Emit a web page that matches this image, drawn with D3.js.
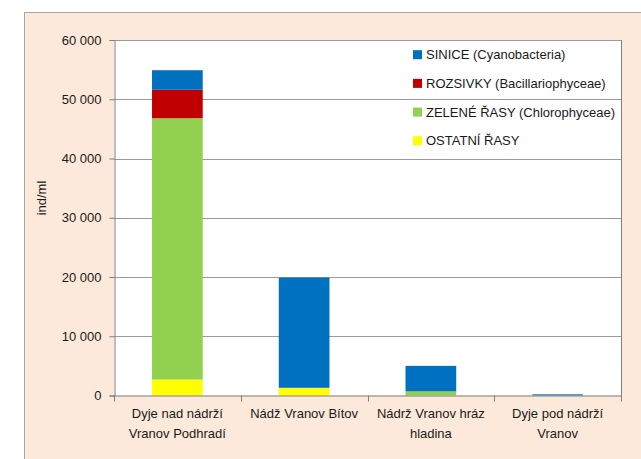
<!DOCTYPE html>
<html><head><meta charset="utf-8">
<script src="https://cdn.jsdelivr.net/npm/d3@7"></script>
<style>
html,body{margin:0;padding:0;background:#fff;}
svg{display:block;font-family:"Liberation Sans",Arial,sans-serif;}
</style></head>
<body>
<svg id="chart" width="641" height="459"></svg>
<script>
// ---- data ----
const categories = [
  ["Dyje nad nádrží", "Vranov Podhradí"],
  ["Nádž Vranov Bítov"],
  ["Nádrž Vranov hráz", "hladina"],
  ["Dyje pod nádrží", "Vranov"]
];
const seriesNames = ["OSTATNÍ ŘASY", "ZELENÉ ŘASY (Chlorophyceae)", "ROZSIVKY (Bacillariophyceae)", "SINICE (Cyanobacteria)"];
const ostatni  = [2700, 1300, 0, 0];
const zelene   = [44100, 0, 700, 0];
const rozsivky = [4800, 0, 0, 0];
const sinice   = [3300, 18600, 4300, 200];
const yTicks = [0, 10000, 20000, 30000, 40000, 50000, 60000];
const yTitle = "ind/ml";
const colors = ["#FFFF00", "#92D050", "#C00000", "#0070C0"];

// ---- layout ----
const svg = d3.select("#chart");
const W = 641, H = 459;
const plot = {left: 114, top: 40, right: 621, bottom: 395.5};
const FS = 13;

svg.append("rect").attr("x", 24.5).attr("y", 12.5).attr("width", W).attr("height", H)
  .attr("fill", "#FDE9D9").attr("stroke", "#a6a6a6").attr("stroke-width", 1);
svg.append("rect").attr("x", plot.left).attr("y", plot.top)
  .attr("width", plot.right - plot.left).attr("height", plot.bottom - plot.top).attr("fill", "#fff");

const keys = ["ostatni", "zelene", "rozsivky", "sinice"];
const table = categories.map((c, i) => ({i, ostatni: ostatni[i], zelene: zelene[i], rozsivky: rozsivky[i], sinice: sinice[i]}));
const stacked = d3.stack().keys(keys)(table);

const x = d3.scaleBand().domain(d3.range(categories.length)).range([plot.left, plot.right]).paddingInner(0.6).paddingOuter(0.3);
const xOuter = d3.scaleBand().domain(d3.range(categories.length)).range([plot.left, plot.right]);
const y = d3.scaleLinear().domain([0, 60000]).range([plot.bottom, plot.top]);

const loc = d3.formatLocale({decimal: ",", thousands: "\u00a0", grouping: [3], currency: ["", ""]});
const fmt = loc.format(",d");

// gridlines
svg.append("g").selectAll("line").data(yTicks.filter(d => d > 0)).join("line")
  .attr("x1", plot.left).attr("x2", plot.right)
  .attr("y1", d => Math.round(y(d)) + 0.5).attr("y2", d => Math.round(y(d)) + 0.5)
  .attr("stroke", "#9a9a9a").attr("stroke-width", 1);

// bars
svg.append("g").selectAll("g").data(stacked).join("g")
  .attr("fill", (d, k) => colors[k])
  .selectAll("rect").data(d => d).join("rect")
  .attr("x", d => x(d.data.i))
  .attr("width", x.bandwidth())
  .attr("y", d => y(d[1]))
  .attr("height", d => Math.max(0, y(d[0]) - y(d[1])));

// right border of plot
svg.append("line").attr("x1", plot.right + 0.5).attr("x2", plot.right + 0.5)
  .attr("y1", plot.top).attr("y2", plot.bottom).attr("stroke", "#7f7f7f");

// y axis
const yAxis = d3.axisLeft(y).tickValues(yTicks).tickFormat(fmt).tickSize(5).tickPadding(8);
const gy = svg.append("g").attr("transform", `translate(${plot.left + 0.5},0)`).call(yAxis);
gy.select(".domain").attr("stroke", "#7f7f7f");
gy.selectAll(".tick line").attr("stroke", "#7f7f7f");
gy.selectAll(".tick text").attr("font-size", FS).attr("fill", "#1a1a1a")
  .attr("font-family", "Liberation Sans, Arial, sans-serif");

// x axis (ticks at band boundaries)
const gx = svg.append("g");
gx.append("line").attr("x1", plot.left).attr("x2", plot.right + 1)
  .attr("y1", plot.bottom + 0.5).attr("y2", plot.bottom + 0.5).attr("stroke", "#7f7f7f").attr("stroke-width", 1.2);
const bounds = d3.range(categories.length + 1).map(i => i < categories.length ? xOuter(i) : plot.right);
gx.selectAll("line.t").data(bounds).join("line").attr("class", "t")
  .attr("x1", d => Math.round(d) + 0.5).attr("x2", d => Math.round(d) + 0.5)
  .attr("y1", plot.bottom).attr("y2", plot.bottom + 6).attr("stroke", "#7f7f7f");

const labels = svg.append("g").selectAll("text").data(categories).join("text")
  .attr("text-anchor", "middle").attr("font-size", FS).attr("fill", "#1a1a1a")
  .attr("x", (d, i) => xOuter(i) + xOuter.bandwidth() / 2)
  .attr("y", 418);
labels.selectAll("tspan").data(d => d).join("tspan")
  .attr("x", function() { return this.parentNode.getAttribute("x"); })
  .attr("dy", (d, j) => j === 0 ? 0 : 20)
  .text(d => d);

// y title
svg.append("text").attr("transform", "translate(46,198) rotate(-90)")
  .attr("text-anchor", "middle").attr("font-size", FS).attr("fill", "#1a1a1a").text(yTitle);

// legend (top to bottom: sinice, rozsivky, zelene, ostatni)
const legendOrder = [3, 2, 1, 0];
const lg = svg.append("g").selectAll("g").data(legendOrder).join("g")
  .attr("transform", (k, j) => `translate(413,${54.7 + j * 28.7})`);
lg.append("rect").attr("x", 0).attr("y", -4.5).attr("width", 9).attr("height", 9).attr("fill", k => colors[k]);
lg.append("text").attr("x", 13).attr("y", 4.6).attr("font-size", FS).attr("fill", "#1a1a1a")
  .text(k => seriesNames[k]);
</script>
</body></html>
